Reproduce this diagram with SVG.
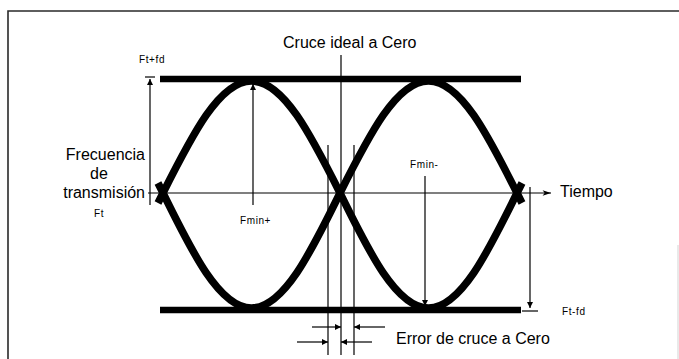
<svg xmlns="http://www.w3.org/2000/svg" width="679" height="359" viewBox="0 0 679 359">
<style>
.frame{stroke:#2a2a2a;stroke-width:1.6;fill:none}
.thick{stroke:#000;stroke-width:6.5;fill:none}
.eye{stroke:#000;stroke-width:7.5;fill:none;stroke-linejoin:round}
.thin{stroke:#000;stroke-width:1.2;fill:none}
.lbl{font-family:"Liberation Sans",Arial,sans-serif;font-size:16px;fill:#000}
.sm{font-family:"Liberation Sans",Arial,sans-serif;font-size:10px;letter-spacing:0.6px;fill:#000}
</style>
<defs>
<marker id="ah" viewBox="0 0 10 10" refX="10" refY="5" markerWidth="7" markerHeight="6" markerUnits="userSpaceOnUse" orient="auto">
<path d="M0,0 L10,5 L0,10 Z" fill="#000"/>
</marker>
<marker id="ahT" viewBox="0 0 12 10" refX="12" refY="5" markerWidth="11" markerHeight="7" markerUnits="userSpaceOnUse" orient="auto">
<path d="M0,1 L12,5 L0,9 L3,5 Z" fill="#000"/>
</marker>
</defs>
<rect width="679" height="359" fill="#fff"/>
<g id="frame">
<path class="frame" d="M8,359 V11 H679"/>
<path d="M678,245 V359" stroke="#e2e2e2" stroke-width="1.5"/>
</g>
<g id="limits">
<line class="thick" x1="160" y1="79" x2="521" y2="79"/>
<line class="thick" x1="160" y1="310" x2="521" y2="310"/>
</g>
<g id="eye">
<path class="eye" d="M158,203 L163,193 C191.86,135.6 219.47,81 251.5,81 C283.53,81 311.14,135.6 340,193 C368.86,251.9 396.47,308 428.5,308 C460.53,308 488.14,251.9 517,193 L522,183"/>
<path class="eye" d="M158,183 L163,193 C191.86,251.9 219.47,308 251.5,308 C283.53,308 311.14,251.9 340,193 C368.86,135.6 396.47,81 428.5,81 C460.53,81 488.14,135.6 517,193 L522,203"/>
</g>
<g id="connectors">
<line class="thin" x1="148" y1="193" x2="551" y2="193" marker-end="url(#ahT)"/>
<line class="thin" x1="150" y1="205" x2="150" y2="79" marker-end="url(#ah)"/>
<line class="thin" x1="145" y1="77" x2="155" y2="77" stroke-width="2"/>
<line class="thin" x1="253" y1="205" x2="253" y2="84" marker-end="url(#ah)"/>
<line class="thin" x1="425" y1="176" x2="425" y2="306" marker-end="url(#ah)"/>
<line class="thin" x1="530" y1="187" x2="530" y2="308" marker-end="url(#ah)"/>
<line class="thin" x1="522" y1="311" x2="538" y2="311" stroke-width="1.6"/>
<line class="thin" x1="341" y1="55" x2="341" y2="355"/>
<line class="thin" x1="328" y1="145" x2="328" y2="355"/>
<line class="thin" x1="354" y1="145" x2="354" y2="355"/>
<line class="thin" x1="312" y1="327" x2="341" y2="327" marker-end="url(#ah)"/>
<line class="thin" x1="385" y1="327" x2="354" y2="327" marker-end="url(#ah)"/>
<line class="thin" x1="297" y1="342" x2="328" y2="342" marker-end="url(#ah)"/>
<line class="thin" x1="372" y1="342" x2="341" y2="342" marker-end="url(#ah)"/>
</g>
<g id="label-cruce-ideal"><text class="lbl" x="283" y="48">Cruce ideal a Cero</text></g>
<g id="label-tiempo"><text class="lbl" x="560" y="197">Tiempo</text></g>
<g id="label-error"><text class="lbl" x="396" y="344">Error de cruce a Cero</text></g>
<g id="label-frecuencia">
<text class="lbl" x="145" y="160" text-anchor="end">Frecuencia</text>
<text class="lbl" x="99" y="179" text-anchor="middle">de</text>
<text class="lbl" x="145" y="198" text-anchor="end">transmisión</text>
<text class="sm" x="99" y="217" text-anchor="middle">Ft</text>
</g>
<g id="label-ftfd-top"><text class="sm" x="139" y="63">Ft+fd</text></g>
<g id="label-fmin-plus"><text class="sm" x="240" y="224">Fmin+</text></g>
<g id="label-fmin-minus"><text class="sm" x="410" y="168">Fmin-</text></g>
<g id="label-ftfd-bottom"><text class="sm" x="562" y="315">Ft-fd</text></g>
</svg>
